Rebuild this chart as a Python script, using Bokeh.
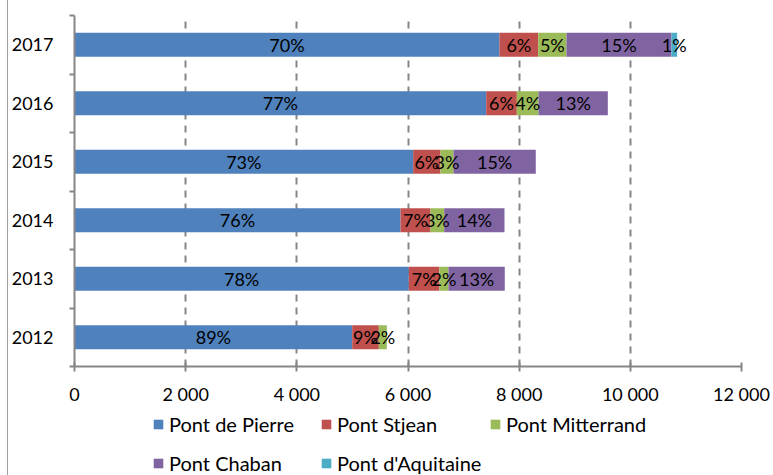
from bokeh.plotting import figure
from bokeh.models import (ColumnDataSource, Range1d, FixedTicker, Legend, LegendItem)
from bokeh.layouts import column
from bokeh.core.properties import value
from bokeh.embed import file_html
from bokeh.resources import INLINE

years = ["2012", "2013", "2014", "2015", "2016", "2017"]
series = ["Pont de Pierre", "Pont Stjean", "Pont Mitterrand", "Pont Chaban", "Pont d'Aquitaine"]
colors = ["#4F81BD", "#C0504D", "#9BBB59", "#8064A2", "#4BACC6"]

pierre     = [4996, 6014, 5865, 6093, 7407, 7646]
stjean     = [479, 552, 540, 491, 551, 696]
mitterrand = [144, 162, 246, 234, 390, 509]
chaban     = [0, 1013, 1085, 1481, 1247, 1889]
aquitaine  = [0, 0, 0, 0, 0, 102]

labels_pierre     = ["89%", "78%", "76%", "73%", "77%", "70%"]
labels_stjean     = ["9%", "7%", "7%", "6%", "6%", "6%"]
labels_mitterrand = ["2%", "2%", "3%", "3%", "4%", "5%"]
labels_chaban     = ["", "13%", "14%", "15%", "13%", "15%"]
labels_aquitaine  = ["", "", "", "", "", "1%"]

x_ticks = [0, 2000, 4000, 6000, 8000, 10000, 12000]
x_tick_labels = ["0", "2 000", "4 000", "6 000", "8 000", "10 000", "12 000"]

FONT = "Lato"
GRAY = "#868686"
BORDER_CSS = {"background": "linear-gradient(to right, white 7px, #a0a0a0 7px, #a0a0a0 8px, white 8px)"}

pos = [i + 0.5 for i in range(len(years))]
data = {"pos": pos}
vals = [pierre, stjean, mitterrand, chaban, aquitaine]
for name, v in zip(series, vals):
    data[name] = v
source = ColumnDataSource(data)

# ---------------- main chart ----------------
p = figure(width=773, height=407, output_backend="svg", toolbar_location=None,
           x_range=Range1d(0, 12000), y_range=Range1d(0, 6),
           min_border_left=74, min_border_right=32, min_border_top=15, min_border_bottom=40)
p.outline_line_color = None
p.background_fill_color = "white"
p.border_fill_alpha = 0
p.styles = BORDER_CSS

p.hbar_stack(series, y="pos", height=0.41, color=colors, line_color=None, source=source)

# data labels centred in each segment
label_sets = [labels_pierre, labels_stjean, labels_mitterrand, labels_chaban, labels_aquitaine]
lx, ly, lt = [], [], []
cum = [0] * len(years)
for v, labs in zip(vals, label_sets):
    for i in range(len(years)):
        if labs[i]:
            lx.append(cum[i] + v[i] / 2)
            ly.append(pos[i])
            lt.append(labs[i])
        cum[i] += v[i]
p.text(x=lx, y=ly, text=lt, text_align="center", text_baseline="middle",
       text_font=value(FONT), text_font_size="18px", text_color="black")

# x axis
xa = p.xaxis[0]
xa.ticker = FixedTicker(ticks=x_ticks, minor_ticks=[])
xa.major_label_overrides = {t: l for t, l in zip(x_ticks, x_tick_labels)}
xa.major_label_text_font = FONT
xa.major_label_text_font_size = "18px"
xa.major_label_text_color = "black"
xa.axis_line_color = GRAY
xa.axis_line_width = 2
xa.major_tick_line_color = GRAY
xa.major_tick_line_width = 2
xa.major_tick_in = 4
xa.major_tick_out = 5
xa.major_label_standoff = 11

# y axis: labels at centres, ticks at category boundaries
ya = p.yaxis[0]
ya.ticker = FixedTicker(ticks=pos, minor_ticks=list(range(len(years) + 1)))
ya.major_label_overrides = {pp: y for pp, y in zip(pos, years)}
ya.major_label_text_font = FONT
ya.major_label_text_font_size = "18px"
ya.major_label_text_color = "black"
ya.axis_line_color = GRAY
ya.axis_line_width = 2
ya.major_tick_line_color = None
ya.major_tick_in = 0
ya.major_tick_out = 0
ya.minor_tick_line_color = GRAY
ya.minor_tick_line_width = 2
ya.minor_tick_in = 0
ya.minor_tick_out = 5
ya.major_label_standoff = 16

p.ygrid.grid_line_color = None
p.xgrid.ticker = FixedTicker(ticks=x_ticks[1:])
p.xgrid.grid_line_color = GRAY
p.xgrid.grid_line_width = 2
p.xgrid.grid_line_dash = "7 6"

# ---------------- legend strip ----------------
q = figure(width=773, height=68, output_backend="svg", toolbar_location=None,
           x_range=Range1d(0, 12000), y_range=Range1d(100, 101),
           x_axis_location=None, y_axis_location=None,
           min_border_left=0, min_border_right=0, min_border_top=0, min_border_bottom=0)
q.outline_line_color = None
q.background_fill_alpha = 0
q.border_fill_alpha = 0
q.grid.grid_line_color = None
q.styles = BORDER_CSS
legend_renderers = q.hbar_stack(series, y="pos", height=0.41, color=colors,
                                line_color=None, source=source)

# (x offset of the swatch from the frame's left edge, y offset from its bottom)
legend_slots = [(78, 39), (246, 39), (415, 39), (78, 0), (246, 0)]
for r, n, loc in zip(legend_renderers, series, legend_slots):
    lg = Legend(items=[LegendItem(label=n, renderers=[r])],
                location=loc, orientation="horizontal",
                padding=0, margin=0, spacing=0,
                glyph_width=12, glyph_height=12, label_standoff=5,
                label_height=24,
                label_text_font=FONT, label_text_font_size="20px",
                label_text_color="black", border_line_color=None,
                background_fill_alpha=0)
    q.add_layout(lg, "center")

layout = column(p, q, spacing=0)
open("out.html", "w").write(file_html(layout, INLINE))
